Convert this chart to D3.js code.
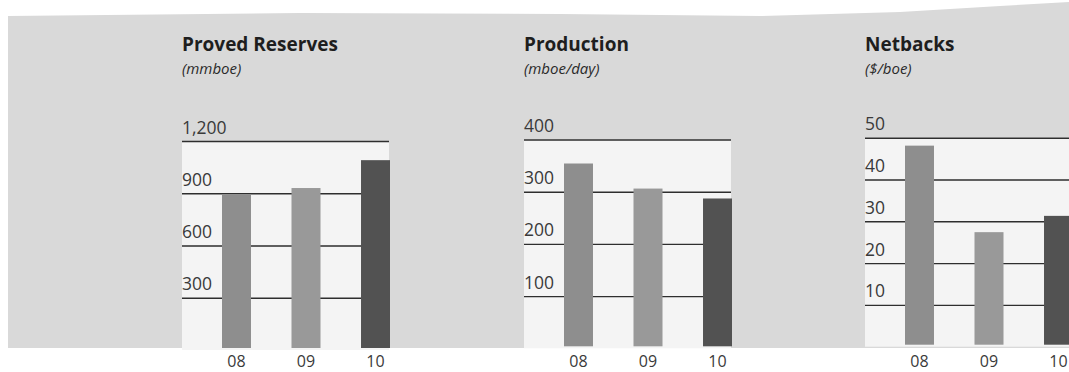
<!DOCTYPE html>
<html>
<head>
<meta charset="utf-8">
<script src="https://cdn.jsdelivr.net/npm/d3@7/dist/d3.min.js"></script>
<style>
  html, body { margin: 0; padding: 0; background: #ffffff; }
  svg { display: block; }
  text { font-family: "Open Sans", "Noto Sans", sans-serif; }
</style>
</head>
<body>
<svg id="chart" width="1069" height="372"></svg>
<script>
// ---- data ----
const categories = ["08", "09", "10"];
const reserves = [890, 930, 1090];
const production = [354, 306, 287];
const netbacks = [48.1, 27.4, 31.3];
const reservesTicks = [300, 600, 900, 1200];
const productionTicks = [100, 200, 300, 400];
const netbackTicks = [10, 20, 30, 40, 50];
const titles = ["Proved Reserves", "Production", "Netbacks"];
const units = ["(mmboe)", "(mboe/day)", "($/boe)"];
const barColors = ["#8e8e8e", "#999999", "#525252"];

const svg = d3.select("#chart");

// stippled backdrop
svg.append("path")
  .attr("d", "M8,16 L300,13 L560,14 L760,16 L900,12 L1000,6 L1069,2 L1069,348 L8,348 Z")
  .attr("fill", "#d9d9d9");

const panels = [
  { x0: 182, yTop: 141, yZero: 350, max: 1200, values: reserves, ticks: reservesTicks, fmt: d3.format(",") },
  { x0: 524, yTop: 139.5, yZero: 348.3, max: 400, values: production, ticks: productionTicks, fmt: d3.format("d") },
  { x0: 865, yTop: 137.7, yZero: 346.7, max: 50, values: netbacks, ticks: netbackTicks, fmt: d3.format("d") }
];
const gridW = 207;

panels.forEach((p, i) => {
  const g = svg.append("g");
  const x = d3.scaleBand().domain(categories)
    .range([p.x0 + 40, p.x0 + 208]).paddingInner(0.583).paddingOuter(0);
  const y = d3.scaleLinear().domain([0, p.max]).range([p.yZero, p.yTop]);

  // lighter plot area
  g.append("rect")
    .attr("x", p.x0).attr("y", y(p.max))
    .attr("width", gridW).attr("height", y(0) - y(p.max))
    .attr("fill", "#f4f4f4");

  // gridlines + tick labels
  const axis = d3.axisRight(y).tickValues(p.ticks).tickSize(gridW).tickFormat(p.fmt);
  const ag = g.append("g").attr("transform", `translate(${p.x0},0)`).call(axis);
  ag.select(".domain").remove();
  ag.selectAll(".tick line").attr("stroke", "#2e2e2e").attr("stroke-width", 1.4);
  ag.selectAll(".tick text")
    .attr("x", 0).attr("dy", "-8").attr("text-anchor", "start")
    .attr("font-size", 17.5).attr("fill", "#3a3a3a")
    .attr("font-family", "'Open Sans', sans-serif");

  // bars
  g.selectAll("rect.bar").data(p.values).join("rect")
    .attr("class", "bar")
    .attr("x", (d, j) => x(categories[j]))
    .attr("width", x.bandwidth())
    .attr("y", d => y(d))
    .attr("height", d => y(0) - y(d) - 2)
    .attr("fill", (d, j) => barColors[j]);

  // category labels
  const xa = d3.axisBottom(x).tickSize(0).tickPadding(0);
  const xg = g.append("g").attr("transform", `translate(0,355)`).call(xa);
  xg.select(".domain").remove();
  xg.selectAll(".tick text")
    .attr("dy", "12").attr("y", 0)
    .attr("font-size", 16).attr("fill", "#3a3a3a")
    .attr("font-family", "'Open Sans', sans-serif");

  // titles
  g.append("text").attr("x", p.x0).attr("y", 51)
    .attr("font-size", 19).attr("font-weight", 700).attr("fill", "#1e1e1e")
    .text(titles[i]);
  g.append("text").attr("x", p.x0).attr("y", 74)
    .attr("font-size", 15).attr("font-style", "italic").attr("fill", "#2a2a2a")
    .text(units[i]);
});
</script>
</body>
</html>
